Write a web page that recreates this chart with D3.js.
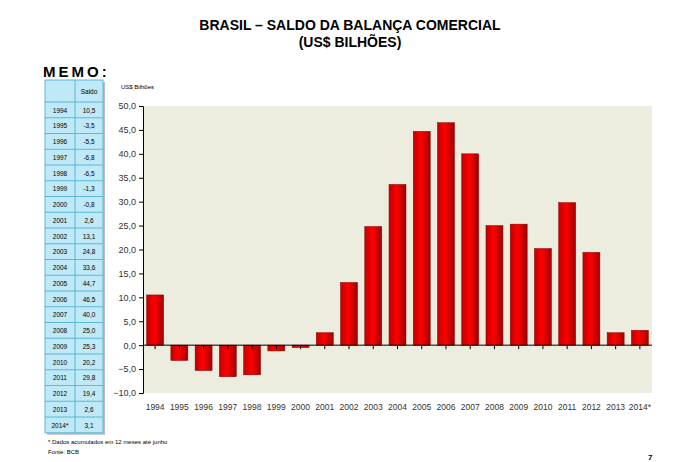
<!DOCTYPE html><html><head><meta charset="utf-8"><script src="https://cdn.jsdelivr.net/npm/d3@7"></script>
<style>body{margin:0;background:#fff}text{font-family:Arial,"Liberation Sans",sans-serif}</style></head><body>
<svg id="c" width="680" height="462"></svg>
<script>
const years=["1994","1995","1996","1997","1998","1999","2000","2001","2002","2003","2004","2005","2006","2007","2008","2009","2010","2011","2012","2013","2014*"];
const values=[10.5,-3.2,-5.3,-6.6,-6.2,-1.2,-0.5,2.6,13.1,24.8,33.6,44.7,46.5,40.0,25.0,25.3,20.2,29.8,19.4,2.6,3.1];
const tableLabels=["10,5","-3,5","-5,5","-6,8","-6,5","-1,3","-0,8","2,6","13,1","24,8","33,6","44,7","46,5","40,0","25,0","25,3","20,2","29,8","19,4","2,6","3,1"];
const yTicks=[-10,-5,0,5,10,15,20,25,30,35,40,45,50];
const svg=d3.select("#c");
const defs=svg.append("defs");
const g=defs.append("linearGradient").attr("id","bar");
g.append("stop").attr("offset","0").attr("stop-color","#c00000");
g.append("stop").attr("offset","0.45").attr("stop-color","#ff0000");
g.append("stop").attr("offset","1").attr("stop-color","#a00000");
svg.append("text").attr("x",350).attr("y",30).attr("text-anchor","middle").attr("font-size",14).attr("font-weight","bold").text("BRASIL – SALDO DA BALANÇA COMERCIAL");
svg.append("text").attr("x",350).attr("y",47).attr("text-anchor","middle").attr("font-size",14).attr("font-weight","bold").text("(US$ BILHÕES)");
svg.append("text").attr("x",43).attr("y",77).attr("font-size",15).attr("font-weight","bold").attr("letter-spacing",3).text("MEMO:");
svg.append("text").attr("x",121).attr("y",89).attr("font-size",6).text("US$ Bilhões");
const L=143,R=652;
const x=d3.scaleBand().domain(years).range([L,R]).paddingInner(0.3).paddingOuter(0.15);
const y=d3.scaleLinear().domain([-10,50]).range([393,106]);
svg.append("rect").attr("x",L).attr("y",106).attr("width",R-L).attr("height",287).attr("fill","#ececdf");
svg.selectAll(".b").data(values).enter().append("rect").attr("x",(d,i)=>x(years[i])).attr("width",x.bandwidth())
 .attr("y",d=>y(Math.max(0,d))).attr("height",d=>Math.abs(y(d)-y(0))).attr("fill","url(#bar)").attr("stroke","#800000").attr("stroke-width",0.5);
const ya=svg.append("g").attr("transform",`translate(${L},0)`).call(d3.axisLeft(y).tickValues(yTicks).tickSize(4).tickFormat(d=>d3.format(".1f")(d).replace(".",",")));
ya.selectAll("text").attr("font-size",9).attr("fill","#333");
ya.select(".domain").attr("stroke","#000");
const xa=svg.append("g").attr("transform",`translate(0,${y(0)})`).call(d3.axisBottom(x).tickSize(4).tickFormat(""));
xa.select(".domain").attr("d",`M${L},0H${R}`);
svg.selectAll(".xl").data(years).enter().append("text").attr("x",d=>x(d)+x.bandwidth()/2).attr("y",410).attr("text-anchor","middle").attr("font-size",8.5).attr("fill","#333").text(d=>d);
// table
const tx=45,tw=58,cx=75,ty=80,hh=22,rh=15.75;
const tg=svg.append("g");
tg.append("rect").attr("x",tx+2).attr("y",ty+2).attr("width",tw).attr("height",hh+rh*years.length).attr("fill","#bbb");
tg.append("rect").attr("x",tx).attr("y",ty).attr("width",tw).attr("height",hh+rh*years.length).attr("fill","#bfe9f7").attr("stroke","#5ab8da");
tg.append("line").attr("x1",cx).attr("x2",cx).attr("y1",ty).attr("y2",ty+hh+rh*years.length).attr("stroke","#5ab8da");
tg.append("text").attr("x",(cx+tx+tw)/2).attr("y",ty+14).attr("text-anchor","middle").attr("font-size",6.5).text("Saldo");
years.forEach((yr,i)=>{const yy=ty+hh+rh*i;
 tg.append("line").attr("x1",tx).attr("x2",tx+tw).attr("y1",yy).attr("y2",yy).attr("stroke","#5ab8da");
 tg.append("text").attr("x",(tx+cx)/2).attr("y",yy+10.5).attr("text-anchor","middle").attr("font-size",6.5).text(yr);
 tg.append("text").attr("x",(cx+tx+tw)/2).attr("y",yy+10.5).attr("text-anchor","middle").attr("font-size",6.5).text(tableLabels[i]);});
svg.append("text").attr("x",48).attr("y",444).attr("font-size",6).text("* Dados acumulados em 12 meses até junho");
svg.append("text").attr("x",48).attr("y",454).attr("font-size",6).text("Fonte: BCB");
svg.append("text").attr("x",648).attr("y",460).attr("font-size",8).attr("font-weight","bold").text("7");
</script></body></html>
